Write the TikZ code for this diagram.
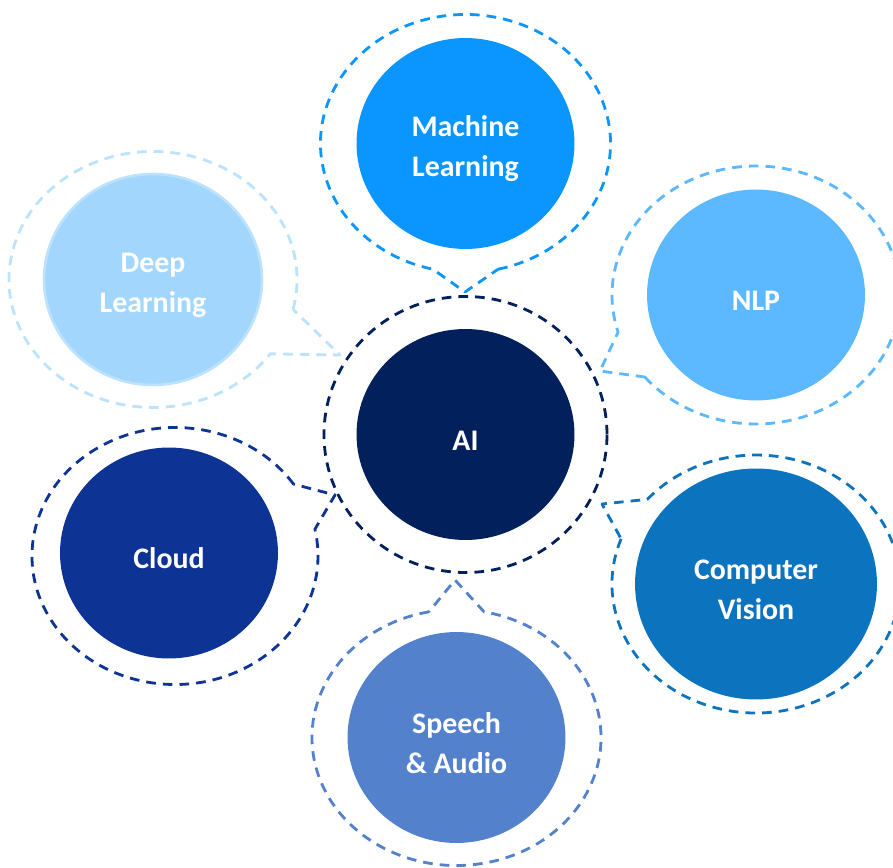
\documentclass[tikz,border=0pt]{standalone}
\usepackage{fontspec}
\setmainfont{Carlito}
\usepackage{tikz}
\usetikzlibrary{shapes.geometric}

\definecolor{aiNavy}{HTML}{02205B}
\definecolor{mlBlue}{HTML}{0A96FE}
\definecolor{dlBlue}{HTML}{A3D6FD}
\definecolor{dlRing}{HTML}{BCE2FC}
\definecolor{nlpBlue}{HTML}{5CB9FF}
\definecolor{cvBlue}{HTML}{0C74BE}
\definecolor{clBlue}{HTML}{0D3494}
\definecolor{saBlue}{HTML}{5381CC}

% pushes the first line of a label a little below the middle
\newcommand{\topicstrut}{\rule{0pt}{18pt}}

\begin{document}
\begin{tikzpicture}[x=0.02cm, y=0.02cm,
        topic/.style={ellipse, inner sep=0pt, minimum width=4.36cm, minimum height=4.22cm,
            text=white, align=center, font=\fontsize{17}{22.7}\selectfont\bfseries},
        bubble/.style={line width=1.6pt, dash pattern=on 5.5pt off 4pt, line join=round}]
        \useasboundingbox (0,0) rectangle (893,867);

        \node[topic, fill=aiNavy] (ai) at (465.5,432.5) {\topicstrut AI};
        \node[topic, fill=mlBlue] (ml) at (465.5,723.5) {\topicstrut Machine\\Learning};
        \node[topic, fill=dlBlue, draw=dlRing, line width=1.5pt] (dl) at (153,587.5) {\topicstrut Deep\\Learning};
        \node[topic, fill=nlpBlue] (nlp) at (756,572) {\topicstrut NLP};
        \node[topic, fill=cvBlue, minimum width=4.84cm, minimum height=4.62cm] (cv) at (756,283) {\topicstrut Computer\\Vision};
        \node[topic, fill=clBlue] (cl) at (169,314) {\topicstrut Cloud};
        \node[topic, fill=saBlue] (sa) at (456.5,129.5) {\topicstrut Speech\\\& Audio};

        % tips of the callouts, all pointing at the centre ring
        \coordinate (mltip) at (465,575);
        \coordinate (dltip) at (340,512);
        \coordinate (nlptip) at (600,496);
        \coordinate (cvtip) at (602,363);
        \coordinate (satip) at (455,287);
        \coordinate (cltip) at (335,372);
        \coordinate (clo) at (175,311);

        \draw[bubble, aiNavy] (ai.center) ellipse[x radius=141.5, y radius=138];

        \draw[bubble, mlBlue] (ml.center) ++(-77:145 and 129) arc[start angle=-77, end angle=257, x radius=145, y radius=129] -- (mltip) -- cycle;
        \draw[bubble, dlRing] (dl.center) ++(-13.5:144 and 128) arc[start angle=-13.5, end angle=324.5, x radius=144, y radius=128] -- (dltip) -- cycle;
        \draw[bubble, nlpBlue] (nlp.center) ++(219.5:144 and 129) arc[start angle=219.5, end angle=556.7, x radius=144, y radius=129] -- (nlptip) -- cycle;
        \draw[bubble, cvBlue] (cv.center) ++(159.5:144 and 129) arc[start angle=159.5, end angle=499, x radius=144, y radius=129] -- (cvtip) -- cycle;
        \draw[bubble, saBlue] (sa.center) ++(101:144.5 and 128) arc[start angle=101, end angle=439, x radius=144.5, y radius=128] -- (satip) -- cycle;
        \draw[bubble, clBlue] (clo) ++(34:143 and 128.5) arc[start angle=34, end angle=372, x radius=143, y radius=128.5] -- (cltip) -- cycle;
\end{tikzpicture}
\end{document}
